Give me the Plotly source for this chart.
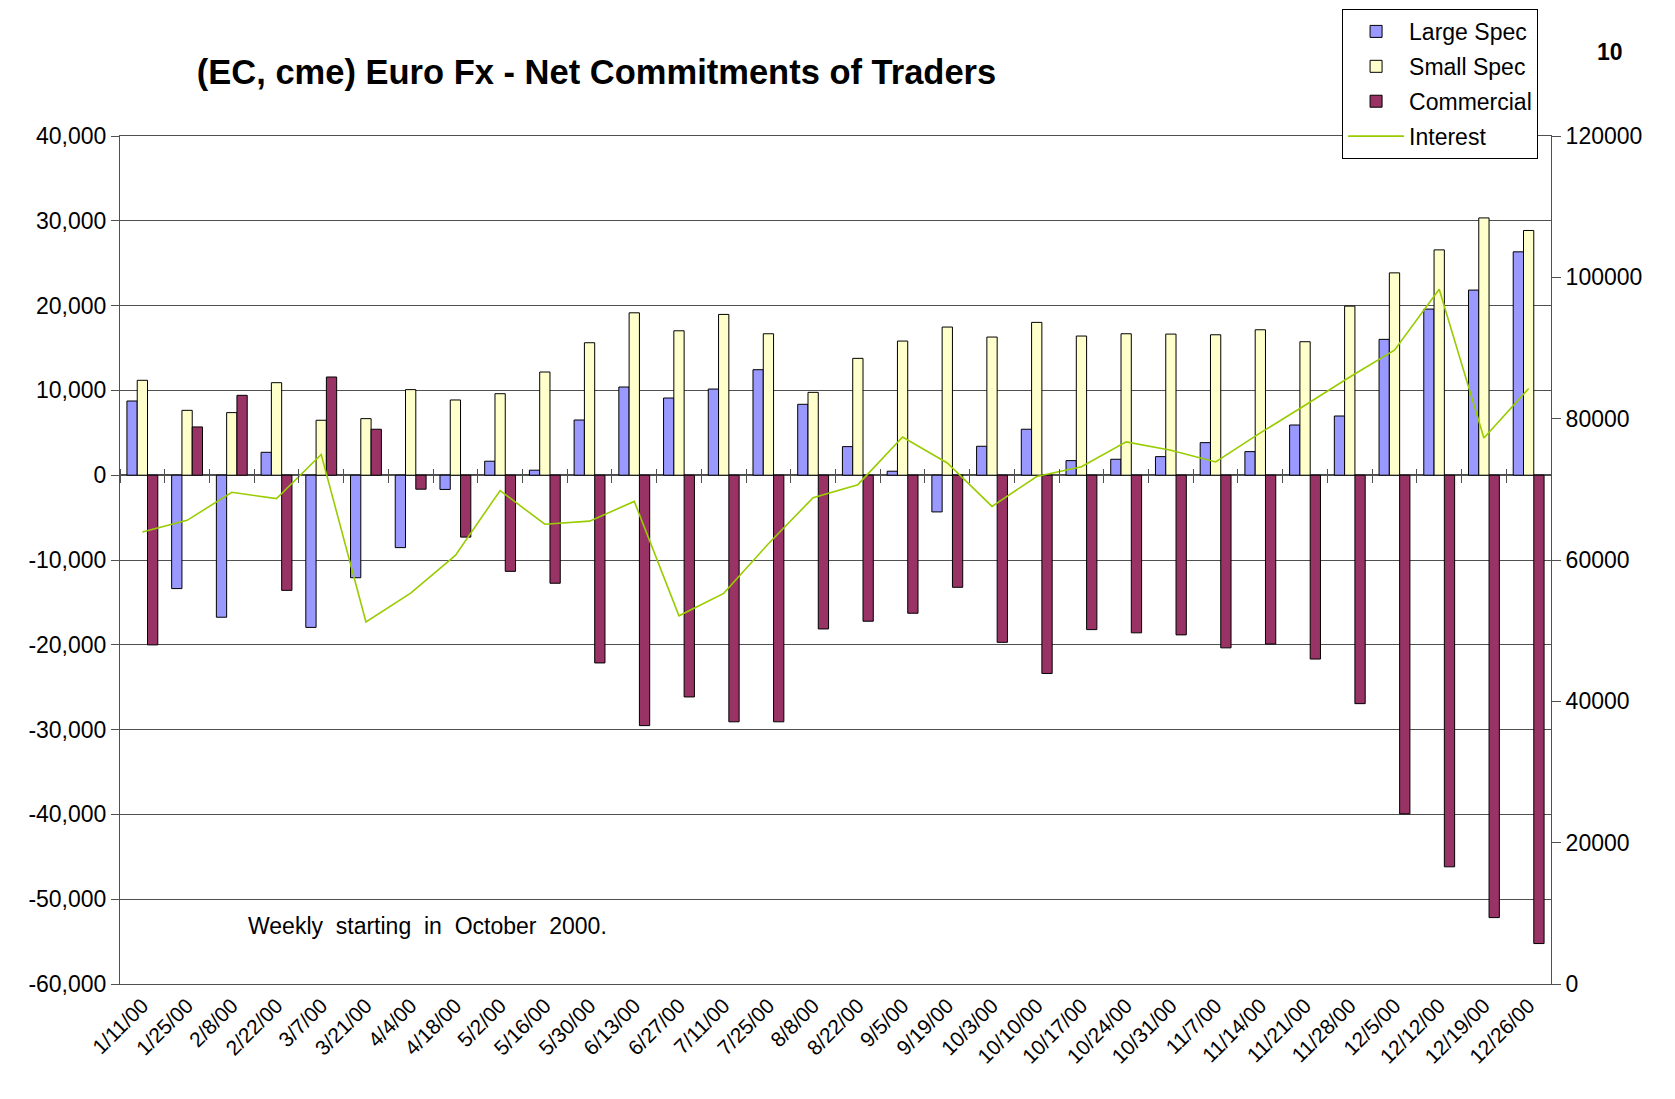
import plotly.graph_objects as go

dates = ["1/11/00", "1/25/00", "2/8/00", "2/22/00", "3/7/00", "3/21/00", "4/4/00", "4/18/00",
         "5/2/00", "5/16/00", "5/30/00", "6/13/00", "6/27/00", "7/11/00", "7/25/00", "8/8/00",
         "8/22/00", "9/5/00", "9/19/00", "10/3/00", "10/10/00", "10/17/00", "10/24/00", "10/31/00",
         "11/7/00", "11/14/00", "11/21/00", "11/28/00", "12/5/00", "12/12/00", "12/19/00", "12/26/00"]

large_spec = [8750, -13370, -16750, 2700, -17950, -12090, -8540, -1680, 1650, 590, 6510, 10400,
              9100, 10160, 12440, 8360, 3370, 470, -4330, 3410, 5420, 1720, 1880, 2190,
              3840, 2780, 5920, 6980, 16020, 19590, 21830, 26340]

small_spec = [11190, 7650, 7380, 10910, 6480, 6670, 10090, 8870, 9610, 12170, 15620, 19150,
              17030, 18960, 16680, 9770, 13780, 15820, 17470, 16290, 18020, 16410, 16680, 16640,
              16560, 17150, 15740, 19940, 23860, 26570, 30340, 28860]

commercial = [-20010, 5690, 9420, -13580, 11580, 5420, -1650, -7300, -11340, -12740, -22140, -29530,
              -26150, -29080, -29080, -18130, -17220, -16280, -13220, -19710, -23380, -18210, -18590, -18830,
              -20360, -19910, -21680, -26940, -39940, -46180, -52170, -55230]

interest = [63970, 65610, 69580, 68680, 74940, 51230, 55300, 60650, 69830, 65060, 65500, 68290,
            52100, 55280, 62300, 68820, 70660, 77410, 73730, 67590, 71810, 73190, 76710, 75530,
            73880, 77980, 81900, 85900, 89680, 98310, 77270, 84260]

left_tick_vals = [-60000, -50000, -40000, -30000, -20000, -10000, 0, 10000, 20000, 30000, 40000]
left_tick_text = ["-60,000", "-50,000", "-40,000", "-30,000", "-20,000", "-10,000", "0",
                  "10,000", "20,000", "30,000", "40,000"]

FONT = "Arial, 'Liberation Sans', sans-serif"
AX = "#505050"

fig = go.Figure()
fig.add_trace(go.Bar(name="Large Spec", x=dates, y=large_spec, legendgroup="a",
                     marker=dict(color="#9999FF", line=dict(color="#000000", width=1))))
fig.add_trace(go.Bar(name="Small Spec", x=dates, y=small_spec, legendgroup="b",
                     marker=dict(color="#FFFFCC", line=dict(color="#000000", width=1))))
fig.add_trace(go.Bar(name="Commercial", x=dates, y=commercial, legendgroup="c",
                     marker=dict(color="#993366", line=dict(color="#000000", width=1))))
fig.add_trace(go.Scatter(name="Interest", x=dates, y=interest, mode="lines", legendgroup="d",
                         line=dict(color="#99CC00", width=1.6), xaxis="x2", yaxis="y2"))

fig.update_layout(
    width=1675, height=1099,
    margin=dict(l=112, r=132, t=128, b=123, autoexpand=False),
    paper_bgcolor="white", plot_bgcolor="white",
    font=dict(family=FONT, color="#000000", size=21),
    barmode="group", bargap=0.31, bargroupgap=0,
    title=dict(text="<b>(EC, cme) Euro Fx - Net Commitments of Traders</b>",
               x=0.333, xref="paper", xanchor="center", y=0.9418, yanchor="middle",
               font=dict(size=34.5, family=FONT, color="#000000")),
    xaxis=dict(type="category", categoryorder="array", categoryarray=dates,
               range=[-0.5, len(dates) - 0.5], showgrid=False, ticks="",
               tickangle=-45, tickfont=dict(size=21), showline=True, mirror=True,
               linecolor=AX, linewidth=1, automargin=False),
    xaxis2=dict(type="category", categoryorder="array", categoryarray=dates,
                overlaying="x", anchor="free", position=0.6 + 7 / 848,
                range=[-0.5, len(dates) - 0.5], showgrid=False, showline=False,
                ticks="outside", ticklen=14, tickcolor=AX, tickson="boundaries",
                showticklabels=False),
    yaxis=dict(range=[-60000, 40000], tickvals=left_tick_vals, ticktext=left_tick_text,
               showgrid=True, gridcolor=AX, gridwidth=1,
               zeroline=True, zerolinecolor=AX, zerolinewidth=2,
               showline=True, linecolor=AX, linewidth=1, ticks="outside", ticklen=8,
               tickcolor=AX, tickfont=dict(size=23), automargin=False),
    yaxis2=dict(range=[0, 120000], dtick=20000, tick0=0, tickformat="d",
                overlaying="y", side="right", anchor="x", showgrid=False, zeroline=False,
                showline=True, linecolor=AX, linewidth=1, ticks="outside", ticklen=9,
                tickcolor=AX, tickfont=dict(size=23), automargin=False),
    legend=dict(x=0.854, y=1.1498, xanchor="left", yanchor="top",
                bgcolor="white", bordercolor="#000000", borderwidth=1,
                font=dict(size=23, family=FONT), traceorder="grouped",
                tracegroupgap=2, itemwidth=56),
    showlegend=True,
)

fig.add_annotation(text="<b>10</b>", xref="paper", yref="paper", x=1.0412, y=1.099,
                   xanchor="center", yanchor="middle",
                   showarrow=False, font=dict(size=23, family=FONT, color="#000000"))
fig.add_annotation(text="Weekly  starting  in  October  2000.", xref="paper", yref="paper",
                   x=0.088, y=0.068, xanchor="left", yanchor="middle", showarrow=False,
                   font=dict(size=23, family=FONT, color="#000000"))

fig.write_html("out.html")
